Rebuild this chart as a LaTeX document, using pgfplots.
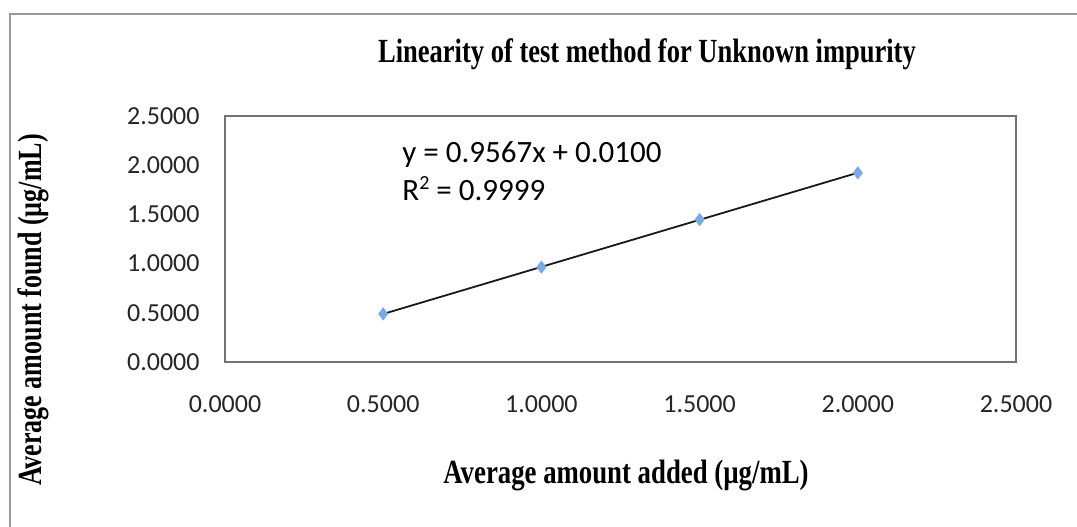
\documentclass[border=0pt]{standalone}
\usepackage{pgfplots}
\pgfplotsset{compat=1.18}
\usepackage{fontspec}
\setmainfont{Liberation Serif}
\newfontfamily\carlito{Carlito}
\definecolor{ptblue}{RGB}{120,170,230}
\begin{document}
\begin{tikzpicture}
\useasboundingbox (0,0) rectangle (538.5pt,-263pt);
\draw[gray!80, line width=1pt] (5pt,-7pt) rectangle (600pt,-320pt);
\begin{axis}[
  at={(112.5pt,-181pt)}, anchor=south west,
  scale only axis, width=395.5pt, height=123pt,
  xmin=0, xmax=2.5, ymin=0, ymax=2.5,
  xtick={0,0.5,1,1.5,2,2.5}, ytick={0,0.5,1,1.5,2,2.5},
  major tick length=0pt,
  axis line style={draw=gray!90!black, line width=0.8pt},
  /pgf/number format/.cd, fixed, fixed zerofill, precision=4, assume math mode=true,
  /pgfplots/.cd,
  ticklabel style={font=\carlito\fontsize{13}{15}\selectfont, text=black!85},
  xticklabel style={anchor=base, yshift=-25pt},
  yticklabel style={anchor=east, inner sep=0pt, xshift=-12.5pt},
  title={\scalebox{1.02}[1.3]{Linearity of test method for Unknown impurity}},
  title style={font=\bfseries\fontsize{13}{15}\selectfont, at={(axis description cs:0.5335,1.17)}, anchor=base, yshift=0pt},
  xlabel={\scalebox{1.03}[1.3]{Average amount added (µg/mL)}},
  xlabel style={font=\bfseries\fontsize{13}{15}\selectfont, at={(axis description cs:0.507,-0.492)}, anchor=base},
  ylabel={\scalebox{1}[1.3]{Average amount found (µg/mL)}},
  ylabel style={font=\bfseries\fontsize{13}{15}\selectfont, at={(axis description cs:-0.232,0.211)}, anchor=base, rotate=0},
  clip=false,
]
\addplot[only marks, mark=diamond*, mark size=3pt, color=ptblue] coordinates {
  (0.5,0.489) (1.0,0.964) (1.5,1.447) (2.0,1.922)
};
\addplot[black!90, line width=0.9pt] coordinates {(0.5,0.48835) (2.0,1.9234)};
\node[anchor=base west, inner sep=0pt, font=\carlito\fontsize{15.5}{18}\selectfont] at (axis description cs:0.2238,0.809) {y = 0.9567x + 0.0100};
\node[anchor=base west, inner sep=0pt, font=\carlito\fontsize{15.5}{18}\selectfont] at (axis description cs:0.2238,0.6585) {R\raisebox{0.35em}{\fontsize{10}{12}\selectfont 2} = 0.9999};
\end{axis}
\end{tikzpicture}
\end{document}
